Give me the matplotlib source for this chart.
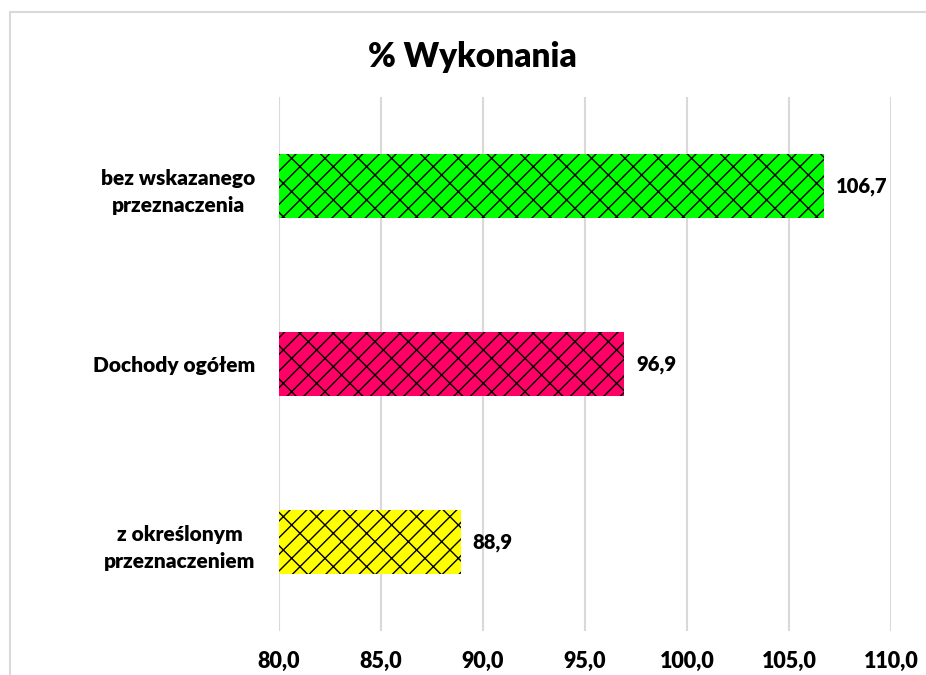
import matplotlib.pyplot as plt
from matplotlib.patches import Rectangle

# Dane
kategorie = ['z określonym\nprzeznaczeniem', 'Dochody ogółem', 'bez wskazanego\nprzeznaczenia']
wartosci = [88.9, 96.9, 106.7]
kolory = ['#FFFF00', '#FF0066', '#00FF00']
x_ticks = [80, 85, 90, 95, 100, 105, 110]

plt.rcParams['font.family'] = ['Lato', 'DejaVu Sans']
plt.rcParams['hatch.linewidth'] = 1.0
plt.rcParams['hatch.color'] = 'black'

fig = plt.figure(figsize=(9.26, 6.75), dpi=100)
ax = fig.add_axes([279 / 926, 1 - 631 / 675, (891 - 279) / 926, (631 - 97) / 675])

# Ramka wykresu
fig.patches.append(Rectangle((10 / 926, -0.05), 1.2, 1.05 - 12 / 675, transform=fig.transFigure,
                             fill=False, edgecolor='#D9D9D9', linewidth=1.5, zorder=0))

y = range(len(kategorie))
ax.barh(y, [w - 80 for w in wartosci], left=80, height=0.36, color=kolory,
        hatch='//\\', edgecolor='black', linewidth=0, zorder=3)

for yi, w in zip(y, wartosci):
    ax.text(w + 0.6, yi, f'{w:.1f}'.replace('.', ','), va='center', ha='left',
            fontsize=14.5, fontweight='heavy')

ax.set_xlim(80, 110)
ax.set_ylim(-0.5, 2.5)
ax.set_xticks(x_ticks)
ax.set_xticklabels([f'{t:.1f}'.replace('.', ',') for t in x_ticks], fontsize=15.5, fontweight='heavy')
ax.set_yticks(list(y))
ax.set_yticklabels(kategorie, fontsize=15, fontweight='heavy', multialignment='center',
                   linespacing=1.55)
ax.tick_params(axis='both', length=0)
ax.tick_params(axis='x', pad=14)
ax.tick_params(axis='y', pad=17)
ax.grid(axis='x', color='#D9D9D9', linewidth=1.5, zorder=0)
ax.set_axisbelow(True)
for s in ax.spines.values():
    s.set_visible(False)

fig.text(472 / 926, 1 - 57 / 675, '% Wykonania', ha='center', va='center',
         fontsize=24, fontweight='heavy')

fig.savefig('out.png', dpi=100)
